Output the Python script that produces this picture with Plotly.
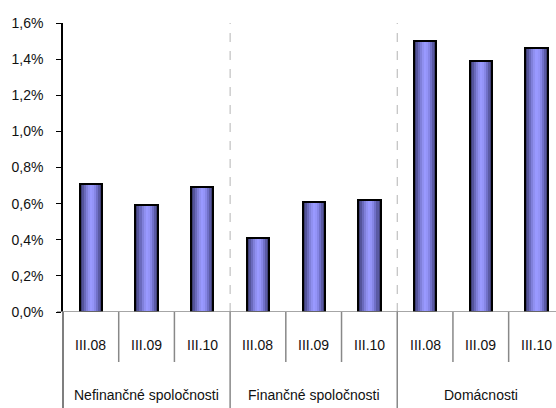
import plotly.graph_objects as go

groups = ["Nefinančné spoločnosti", "Finančné spoločnosti", "Domácnosti"]
periods = ["III.08", "III.09", "III.10"]
values = [0.71, 0.59, 0.69, 0.41, 0.61, 0.62, 1.50, 1.39, 1.46]  # %
y_ticks = [0.0, 0.2, 0.4, 0.6, 0.8, 1.0, 1.2, 1.4, 1.6]

x_pos = list(range(len(values)))
vals = [v / 100 for v in values]

# horizontal "cylinder" shading, left -> right
shades = ["#3e3e74", "#54549a", "#6a6abc", "#8080da", "#9090f0", "#9999ff",
          "#9494f8", "#8686e6", "#7070c8", "#5a5aa4", "#42427a"]
bar_w = 0.4
n = len(shades)

fig = go.Figure()
for k, c in enumerate(shades):
    fig.add_trace(go.Bar(
        x=x_pos, y=vals, width=bar_w / n + 0.004, offset=-bar_w / 2 + k * bar_w / n,
        marker=dict(color=c, line=dict(width=0)), showlegend=False, hoverinfo="skip"))
fig.add_trace(go.Bar(
    x=x_pos, y=vals, width=bar_w, offset=-bar_w / 2,
    marker=dict(color="rgba(0,0,0,0)", line=dict(color="black", width=2)),
    showlegend=False, hoverinfo="skip"))

shapes = []
# dashed separators between groups inside plot
for b in [2.5, 5.5]:
    shapes.append(dict(type="line", xref="x", yref="y", x0=b, x1=b, y0=0, y1=0.016,
                       line=dict(color="#b4b4b4", width=1, dash="dash"), layer="below"))
# table dividers below axis
for b in [0.5, 1.5, 3.5, 4.5, 6.5, 7.5]:
    shapes.append(dict(type="line", xref="x", yref="paper", x0=b, x1=b, y0=0, y1=-50 / 289,
                       line=dict(color="#888888", width=1.5)))
for b in [2.5, 5.5]:
    shapes.append(dict(type="line", xref="x", yref="paper", x0=b, x1=b, y0=0, y1=-0.34,
                       line=dict(color="#888888", width=1.5)))
shapes.append(dict(type="line", xref="paper", yref="paper", x0=0, x1=0, y0=0, y1=-0.34,
                   line=dict(color="#555555", width=1.5)))
# x axis line (extends a little left of y axis)
shapes.append(dict(type="line", xref="paper", yref="y", x0=-6 / 493, x1=1, y0=0, y1=0,
                   line=dict(color="#888888", width=1.5)))

annotations = []
for i, x in enumerate(x_pos):
    annotations.append(dict(x=x, xref="x", y=0, yref="paper", yanchor="middle",
                            yshift=-33, text=periods[i % 3], showarrow=False,
                            font=dict(size=14, color="#111111")))
for g, name in enumerate(groups):
    annotations.append(dict(x=g * 3 + 1, xref="x", y=0, yref="paper", yanchor="middle",
                            yshift=-83, text=name, showarrow=False,
                            font=dict(size=14, color="#111111")))

fig.update_layout(
    width=556, height=408,
    margin=dict(l=63, r=0, t=23, b=96),
    paper_bgcolor="white", plot_bgcolor="white",
    barmode="overlay", bargap=0,
    separators=", ",
    font=dict(family="Liberation Sans, Arial, sans-serif", size=14, color="#111111"),
    shapes=shapes, annotations=annotations,
    xaxis=dict(range=[-0.5, 8.35], showticklabels=False, showgrid=False,
               zeroline=False, showline=False, ticks=""),
    yaxis=dict(range=[0, 0.016], tickvals=[t / 100 for t in y_ticks], tickformat=".1%",
               showgrid=False, zeroline=False, showline=True, linecolor="black",
               linewidth=1.5, ticks="outside", ticklen=5, tickcolor="black",
               tickwidth=1, ticklabelstandoff=10,
               tickfont=dict(size=14, color="#111111")),
)

fig.write_html("out.html", config={"displayModeBar": False},
               post_script="document.body.style.margin='0px';")
